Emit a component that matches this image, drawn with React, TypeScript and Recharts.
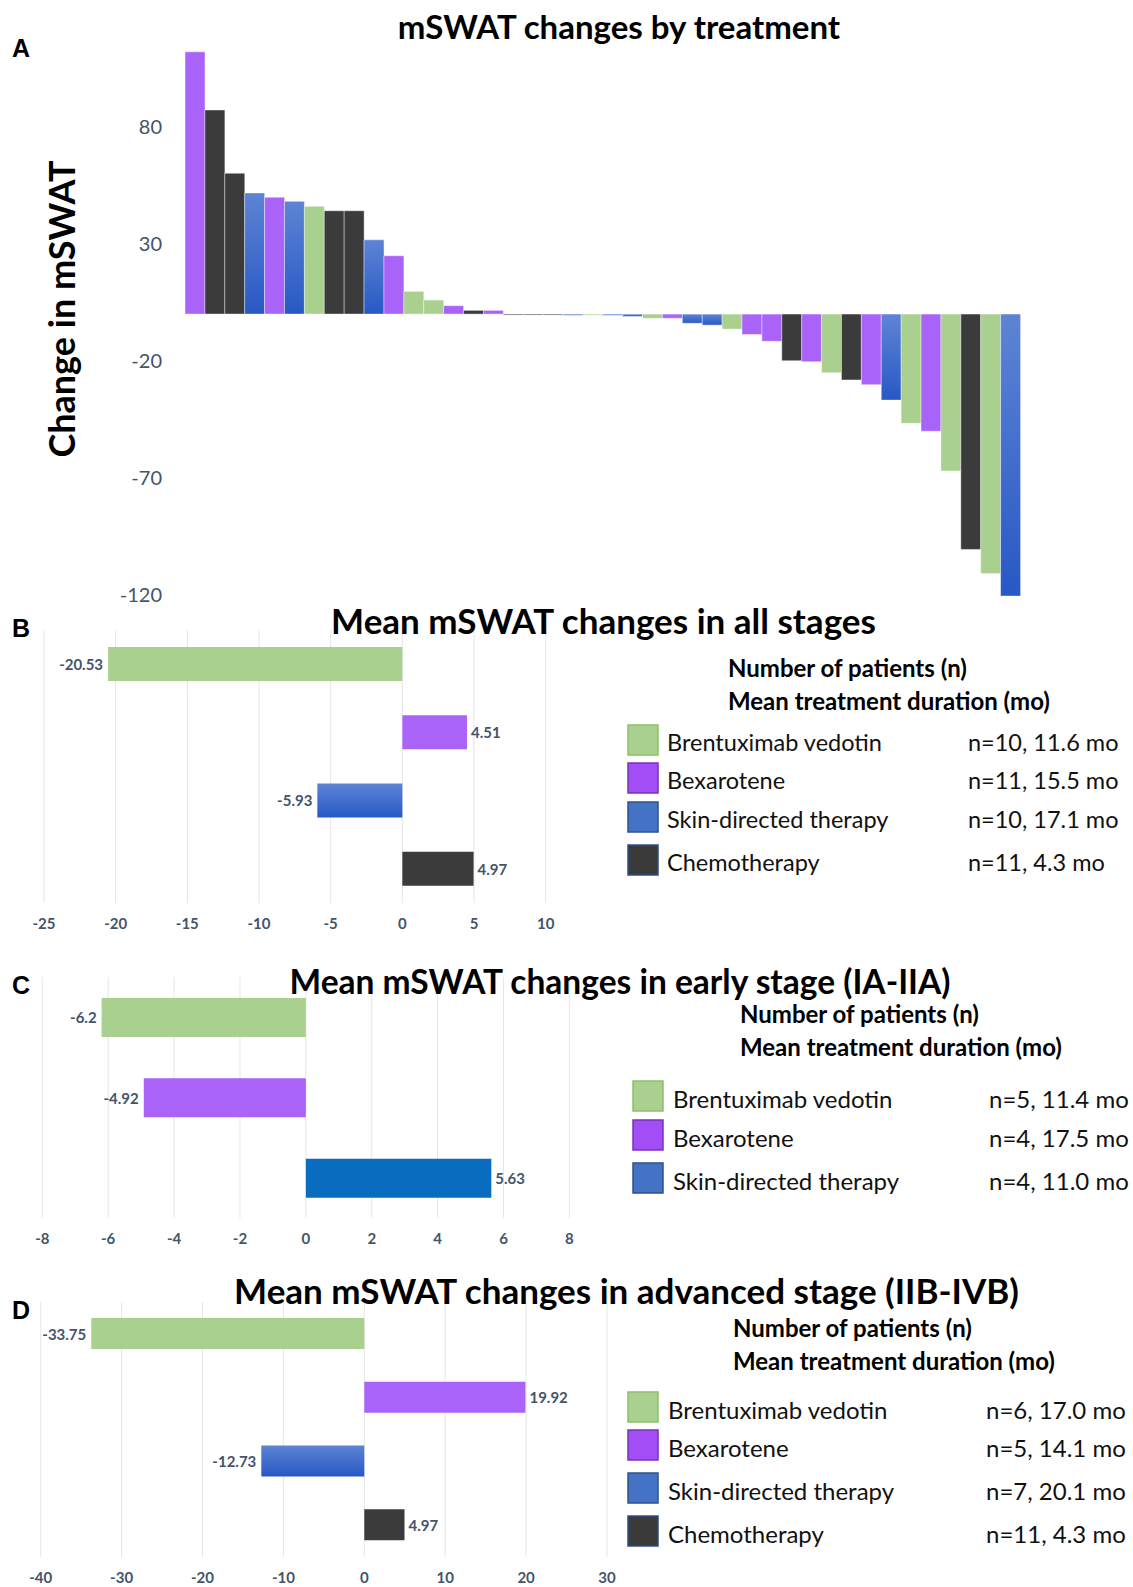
import { BarChart, Bar, XAxis, YAxis, Cell, LabelList, CartesianGrid } from 'recharts'

type Group = 'bv' | 'bex' | 'sdt' | 'chemo'

const TREATMENTS = ['Brentuximab vedotin', 'Bexarotene', 'Skin-directed therapy', 'Chemotherapy']
const GROUPS: Group[] = ['bv', 'bex', 'sdt', 'chemo']

// A: one bar per patient, sorted by change
const patientGroup: Group[] = [
  'bex', 'chemo', 'chemo', 'sdt', 'bex', 'sdt', 'bv', 'chemo', 'chemo', 'sdt',
  'bex', 'bv', 'bv', 'bex', 'chemo', 'bex', 'chemo', 'chemo', 'chemo', 'sdt',
  'bv', 'sdt', 'sdt', 'bv', 'bex', 'sdt', 'sdt', 'bv', 'bex', 'bex',
  'chemo', 'bex', 'bv', 'chemo', 'bex', 'sdt', 'bv', 'bex', 'bv', 'chemo',
  'bv', 'sdt',
]
const patientChange = [
  111.9, 87.1, 60.1, 51.7, 49.9, 48.1, 46.0, 44.1, 44.1, 31.7,
  24.9, 9.7, 6.0, 3.6, 1.6, 1.6, -0.4, -0.4, -0.4, -0.5,
  -0.5, -0.5, -1.0, -1.8, -1.8, -3.9, -4.7, -6.4, -8.7, -11.6,
  -19.9, -20.3, -25.0, -28.1, -30.1, -36.7, -46.6, -50.0, -66.9, -100.4,
  -110.7, -120.3,
]
const patientTicks = [-120, -70, -20, 30, 80]

// B: all stages
const allMeans = [-20.53, 4.51, -5.93, 4.97]
const allInfo = ['n=10, 11.6 mo', 'n=11, 15.5 mo', 'n=10, 17.1 mo', 'n=11, 4.3 mo']
const allTicks = [-25, -20, -15, -10, -5, 0, 5, 10]

// C: early stage
const earlyMeans = [-6.2, -4.92, 5.63]
const earlyInfo = ['n=5, 11.4 mo', 'n=4, 17.5 mo', 'n=4, 11.0 mo']
const earlyTicks = [-8, -6, -4, -2, 0, 2, 4, 6, 8]

// D: advanced stage
const advMeans = [-33.75, 19.92, -12.73, 4.97]
const advInfo = ['n=6, 17.0 mo', 'n=5, 14.1 mo', 'n=7, 20.1 mo', 'n=11, 4.3 mo']
const advTicks = [-40, -30, -20, -10, 0, 10, 20, 30]

const GREEN = '#A9D08E'
const PURPLE = '#AA63F8'
const BLACK = '#3B3B3B'
const BLUE_TOP = '#5D84D4'
const BLUE_BOTTOM = '#2858C5'
const BLUE_SOLID = '#0A6CBF'
const SLATE = '#44546A'
const FONT = 'Lato, "Open Sans", sans-serif'

const LEGEND_FILL: Record<Group, string> = { bv: GREEN, bex: '#A24DF5', sdt: '#4472C4', chemo: '#3A3A3A' }
const LEGEND_STROKE: Record<Group, string> = { bv: '#8DC06B', bex: '#7634B5', sdt: '#2F528F', chemo: '#2F4F86' }

function fillFor(g: Group, gradId: string, solidBlue = false) {
  if (g === 'bv') return GREEN
  if (g === 'bex') return PURPLE
  if (g === 'chemo') return BLACK
  return solidBlue ? BLUE_SOLID : `url(#${gradId})`
}

const renderValueLabel = (props: any) => {
  const { x, y, width, height, value } = props
  const x0 = Math.min(x, x + width)
  const x1 = Math.max(x, x + width)
  const neg = value < 0
  return (
    <text x={neg ? x0 - 5 : x1 + 4} y={y + height / 2} textAnchor={neg ? 'end' : 'start'}
      dominantBaseline="central" fontFamily={FONT} fontWeight={700} fontSize={15} fill={SLATE}>
      {value}
    </text>
  )
}

interface HBarProps {
  id: string
  values: number[]
  ticks: number[]
  left: number
  right: number
  top: number
  bottom: number
  barSize: number
  solidBlue?: boolean
}

function HBarPanel({ id, values, ticks, left, right, top, bottom, barSize, solidBlue }: HBarProps) {
  const data = values.map((v, i) => ({ name: GROUPS[i], value: v }))
  const padTop = 10
  const axisH = 40
  const width = right + 30
  const height = bottom - top + padTop + axisH
  return (
    <div style={{ position: 'absolute', left: 0, top: top - padTop }}>
      <BarChart width={width} height={height} data={data} layout="vertical"
        margin={{ top: padTop, right: width - right, left, bottom: 0 }}>
        <defs>
          <linearGradient id={id} x1="0" y1="0" x2="0" y2="1">
            <stop offset="0%" stopColor={BLUE_TOP} />
            <stop offset="100%" stopColor={BLUE_BOTTOM} />
          </linearGradient>
        </defs>
        <CartesianGrid horizontal={false} stroke="#E6E6E6" />
        <XAxis type="number" domain={[ticks[0], ticks[ticks.length - 1]]} ticks={ticks} interval={0}
          height={axisH} axisLine={false} tickLine={false} tickMargin={9}
          tick={{ fontFamily: FONT, fontWeight: 700, fontSize: 15, fill: SLATE }} />
        <YAxis type="category" dataKey="name" hide />
        <Bar dataKey="value" barSize={barSize} isAnimationActive={false}>
          {data.map((d, i) => (
            <Cell key={i} fill={fillFor(d.name, id, solidBlue)} />
          ))}
          <LabelList dataKey="value" content={renderValueLabel} />
        </Bar>
      </BarChart>
    </div>
  )
}

function Legend({ count, info, headX, headY, boxX, rowY, textX, valX, size }:
  { count: number; info: string[]; headX: number; headY: number; boxX: number; rowY: number[]; textX: number; valX: number; size: number }) {
  return (
    <g fontFamily={FONT}>
      <text x={headX} y={headY} fontSize={24} fontWeight={700} dominantBaseline="central">Number of patients (n)</text>
      <text x={headX} y={headY + 33} fontSize={24} fontWeight={700} dominantBaseline="central">Mean treatment duration (mo)</text>
      {GROUPS.slice(0, count).map((g, i) => (
        <g key={g}>
          <rect x={boxX} y={rowY[i] - 15} width={30} height={30} fill={LEGEND_FILL[g]} stroke={LEGEND_STROKE[g]} strokeWidth={1.5} />
          <text x={textX} y={rowY[i] + 2} fontSize={size} dominantBaseline="central" fill="#111">{TREATMENTS[i]}</text>
          <text x={valX} y={rowY[i] + 2} fontSize={size} dominantBaseline="central" fill="#111">{info[i]}</text>
        </g>
      ))}
    </g>
  )
}

export default function App() {
  const patients = patientChange.map((v, i) => ({ idx: i + 1, value: v, group: patientGroup[i] }))
  const title = (size: number) => ({ fontFamily: FONT, fontWeight: 700, fontSize: size })
  const letterStyle = { fontFamily: '"Liberation Sans", Arial, sans-serif', fontWeight: 700, fontSize: 25 }
  return (
    <div style={{ position: 'absolute', left: 0, top: 0, width: 1133, height: 1587, background: '#fff', overflow: 'hidden' }}>
      {/* A: waterfall */}
      <div style={{ position: 'absolute', left: 0, top: 0 }}>
        <BarChart width={1040} height={620} data={patients} barCategoryGap={0}
          margin={{ top: 51.6, right: 19.5, left: 125, bottom: 22.3 }}>
          <defs>
            <linearGradient id="gradA" x1="0" y1="0" x2="0" y2="1">
              <stop offset="0%" stopColor={BLUE_TOP} />
              <stop offset="100%" stopColor={BLUE_BOTTOM} />
            </linearGradient>
          </defs>
          <XAxis dataKey="idx" hide />
          <YAxis width={60} domain={[-121, 112]} ticks={patientTicks} interval={0} axisLine={false} tickLine={false}
            tickMargin={17} tick={{ fontFamily: FONT, fontSize: 20, fill: SLATE }} />
          <Bar dataKey="value" isAnimationActive={false} stroke="rgba(255,255,255,0.55)" strokeWidth={0.8}>
            {patients.map((p, i) => (
              <Cell key={i} fill={fillFor(p.group, 'gradA')} />
            ))}
          </Bar>
        </BarChart>
      </div>

      <HBarPanel id="gradB" values={allMeans} ticks={allTicks} left={44} right={545.7} top={630} bottom={903} barSize={34} />
      <HBarPanel id="gradC" values={earlyMeans} ticks={earlyTicks} left={42.3} right={569.4} top={977} bottom={1218} barSize={39} solidBlue />
      <HBarPanel id="gradD" values={advMeans} ticks={advTicks} left={40.7} right={607} top={1302} bottom={1557} barSize={31} />

      <svg width={1133} height={1587} style={{ position: 'absolute', left: 0, top: 0, pointerEvents: 'none' }}>
        <text x={21} y={48} textAnchor="middle" dominantBaseline="central" style={letterStyle}>A</text>
        <text x={21} y={628} textAnchor="middle" dominantBaseline="central" style={letterStyle}>B</text>
        <text x={21} y={985} textAnchor="middle" dominantBaseline="central" style={letterStyle}>C</text>
        <text x={21} y={1310} textAnchor="middle" dominantBaseline="central" style={letterStyle}>D</text>

        <text x={619} y={26} textAnchor="middle" dominantBaseline="central" style={title(33)}>mSWAT changes by treatment</text>
        <text x={603.5} y={620} textAnchor="middle" dominantBaseline="central" style={title(35)}>Mean mSWAT changes in all stages</text>
        <text x={620} y={981} textAnchor="middle" dominantBaseline="central" style={title(33.5)}>Mean mSWAT changes in early stage (IA-IIA)</text>
        <text x={626.5} y={1290} textAnchor="middle" dominantBaseline="central" style={title(35)}>Mean mSWAT changes in advanced stage (IIB-IVB)</text>

        <text x={61} y={309} textAnchor="middle" dominantBaseline="central" transform="rotate(-90 61 309)" style={title(36)}>Change in mSWAT</text>

        <Legend count={4} info={allInfo} headX={728} headY={667} boxX={628} rowY={[740, 778, 817, 860]} textX={667} valX={968} size={23.5} />
        <Legend count={3} info={earlyInfo} headX={740} headY={1013} boxX={633} rowY={[1096, 1135, 1178]} textX={673} valX={989} size={24} />
        <Legend count={4} info={advInfo} headX={733} headY={1327} boxX={628} rowY={[1407, 1445, 1488, 1531]} textX={668} valX={986} size={24} />
      </svg>
    </div>
  )
}
